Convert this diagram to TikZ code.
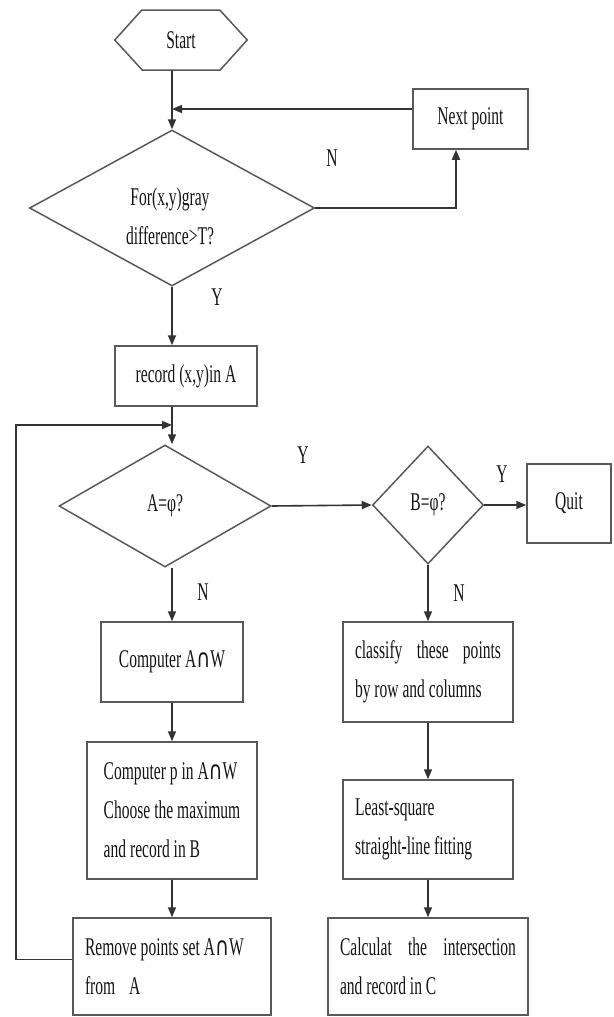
\documentclass[tikz,border=0pt]{standalone}
\usepackage{fontspec}
\setmainfont[FakeStretch=0.61]{Liberation Serif}
\newfontfamily\capfont[FakeStretch=0.75]{DejaVu Sans}
\newcommand\capsym{{\capfont ∩}}
\usetikzlibrary{shapes.geometric,arrows.meta}
\begin{document}
\begin{tikzpicture}[x=1pt,y=-1pt,
  every node/.style={font=\fontsize{25.5}{39}\selectfont, text=black!92},
  box/.style={draw=black!65, line width=1.5pt, rectangle, inner sep=0pt},
  lbox/.style={box, align=left},
  dia/.style={draw=black!65, line width=1.5pt, diamond, inner sep=0pt, align=center},
  lab/.style={inner sep=0pt},
  conn/.style={draw=black!80, line width=1.6pt},
  arr/.style={conn, -{Triangle[length=10pt,width=8pt]}}
]
\useasboundingbox (0,0) rectangle (613,1017);

% start hexagon
\node (start) [minimum width=132pt, minimum height=60pt, inner sep=0pt] at (181,40) {Start};
\draw[draw=black!65, line width=1.5pt] (start.west) -- ++(27,-30) -- ++(78,0) -- (start.east) -- ++(-27,30) -- ++(-78,0) -- cycle;

% decision 1
\node (d1) [dia, minimum width=285pt, minimum height=156pt] at (172,208) {};
\node (d1t) [align=center, inner sep=0pt] at (170,216) {For(x,y)gray\\difference>T?};
\node (next) [box, minimum width=115pt, minimum height=60pt] at (470.5,119) {Next point};
\node (rec) [box, minimum width=142pt, minimum height=60pt] at (186,376) {record (x,y)in A};

% decision 2 and 3
\node (d2) [dia, minimum width=212pt, minimum height=122pt] at (165,506) {A=φ?};
\node (d3) [dia, minimum width=111pt, minimum height=118pt] at (428,505) {B=φ?};
\node (quit) [box, minimum width=84pt, minimum height=79pt] at (569,503.5) {Quit};

% left column
\node (cmp) [box, minimum width=142pt, minimum height=80pt] at (172,662) {Computer A\capsym W\\[14pt]};
\node (cmpp) [lbox, minimum width=170pt, minimum height=137pt] at (172,810.5) {Computer p in A\capsym W\\Choose the maximum\\and record in B};
\node (rem) [lbox, minimum width=198pt, minimum height=97pt] at (172,966.5) {\makebox[174pt][l]{Remove points set A\capsym W}\\from\hspace{14pt}A};

% right column
\node (cls) [lbox, minimum width=170pt, minimum height=100pt] at (428,672) {\makebox[146pt][s]{classify these points}\\by row and columns};
\node (lsq) [lbox, minimum width=170pt, minimum height=99pt] at (428,829.5) {\makebox[146pt][l]{Least-square}\\straight-line fitting};
\node (calc) [lbox, minimum width=200pt, minimum height=97pt] at (428,966.5) {\makebox[176pt][s]{Calculat the intersection}\\and record in C};

% labels
\node (lN1) [lab] at (332,158) {N};
\node (lY1) [lab] at (217,297) {Y};
\node (lY2) [lab] at (303,455) {Y};
\node (lY3) [lab] at (502,474) {Y};
\node (lN2) [lab] at (203,592) {N};
\node (lN3) [lab] at (459,593) {N};

% connectors
\draw[arr] (start.south -| d1.north) -- (d1.north);
\draw[arr] (next.west |- 0,109) -- (172,109);
\coordinate (nr) at (456,208);
\draw[arr] (d1.east) -- (nr) -- (nr |- next.south);
\draw[arr] (d1.south) -- (d1.south |- rec.north);
\draw[arr] (d1.south |- rec.south) -- (d1.south |- d2.north);
\draw[arr] (d2.east) -- (d3.west);
\draw[arr] (d3.east) -- (d3.east -| quit.west);
\draw[arr] (d3.south) -- (cls.north);
\draw[arr] (cmp.north |- d2.south) -- (cmp.north);
\draw[arr] (cmp.south) -- (cmpp.north);
\draw[arr] (cmpp.south) -- (rem.north);
\draw[arr] (cls.south) -- (lsq.north);
\draw[arr] (lsq.south) -- (calc.north);
\coordinate (loopL) at (16,425);
\draw[arr] ([yshift=7pt]rem.west) -| (loopL) -- (loopL -| d1.south);
\end{tikzpicture}
\end{document}
